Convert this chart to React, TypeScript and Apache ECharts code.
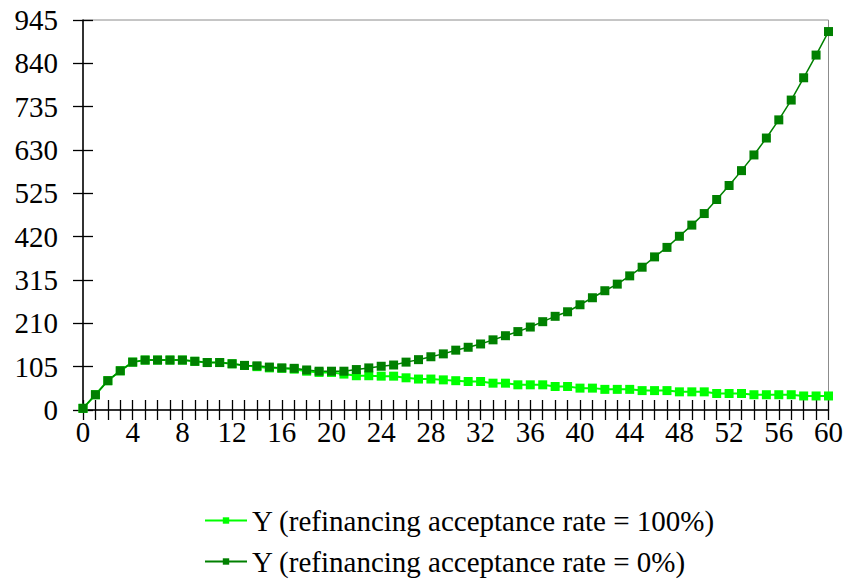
import React, { useEffect, useRef } from "react";
import * as echarts from "echarts";

const categories = [
  "0","1","2","3","4","5","6","7","8","9","10","11","12","13","14","15","16","17","18","19","20",
  "21","22","23","24","25","26","27","28","29","30","31","32","33","34","35","36","37","38","39","40",
  "41","42","43","44","45","46","47","48","49","50","51","52","53","54","55","56","57","58","59","60",
];

const seriesNames = [
  "Y (refinancing acceptance rate = 100%)",
  "Y (refinancing acceptance rate = 0%)",
];

const rate100 = [
  4, 37, 71, 95, 116, 121, 121, 121, 121, 118, 115, 115, 112, 108, 105, 102, 101, 99, 94, 91, 91,
  87, 83, 83, 82, 82, 78, 75, 75, 73, 71, 69, 69, 65, 65, 61, 61, 61, 57, 57, 53,
  53, 50, 50, 50, 47, 47, 47, 44, 44, 44, 40, 40, 40, 37, 37, 37, 37, 34, 34, 34,
];

const rate0 = [
  4, 37, 71, 95, 116, 121, 121, 121, 121, 118, 115, 115, 112, 108, 107, 104, 102, 101, 97, 94, 94,
  94, 98, 102, 106, 109, 116, 122, 129, 136, 145, 152, 160, 170, 180, 190, 201, 214, 227, 238, 255,
  272, 289, 305, 325, 346, 371, 394, 421, 448, 476, 510, 544, 580, 618, 659, 703, 751, 805, 860, 917,
];

const yMin = 0;
const yMax = 945;
const yStep = 105;

const FONT = "Liberation Serif, serif";

export default function App() {
  const ref = useRef<HTMLDivElement>(null);

  useEffect(() => {
    if (!ref.current) return;
    const chart = echarts.init(ref.current, null, { renderer: "svg" });
    const legendBase = {
      orient: "vertical",
      left: 204,
      padding: 0,
      itemWidth: 42,
      itemHeight: 8,
      textStyle: { fontFamily: FONT, fontSize: 29, color: "#000" },
    };
    chart.setOption({
      animation: false,
      backgroundColor: "#ffffff",
      textStyle: { fontFamily: FONT },
      grid: {
        left: 83,
        right: 17,
        top: 20,
        bottom: 171,
        show: true,
        borderColor: "#8c8c8c",
        borderWidth: 1,
      },
      legend: [
        { ...legendBase, top: 506, data: [seriesNames[0]] },
        { ...legendBase, top: 547, data: [seriesNames[1]] },
      ],
      xAxis: [
        {
          type: "category",
          data: categories,
          boundaryGap: false,
          position: "bottom",
          axisLine: { lineStyle: { color: "#000", width: 1.5 } },
          axisTick: { show: true, interval: 0, length: 10, lineStyle: { color: "#000", width: 1.3 } },
          axisLabel: { interval: 3, fontSize: 29, color: "#000", fontFamily: FONT, margin: 7 },
          splitLine: { show: false },
        },
        {
          type: "category",
          data: categories,
          boundaryGap: false,
          position: "bottom",
          axisLine: { show: false },
          axisTick: { show: true, inside: true, interval: 0, length: 10, lineStyle: { color: "#000", width: 1.3 } },
          axisLabel: { show: false },
          splitLine: { show: false },
        },
      ],
      yAxis: [
        {
          type: "value",
          min: yMin,
          max: yMax,
          interval: yStep,
          position: "left",
          axisLine: { show: true, lineStyle: { color: "#000", width: 1.5 } },
          axisTick: { show: true, length: 10, lineStyle: { color: "#000", width: 1.3 } },
          axisLabel: { fontSize: 29, color: "#000", fontFamily: FONT, margin: 25 },
          splitLine: { show: false },
        },
        {
          type: "value",
          min: yMin,
          max: yMax,
          interval: yStep,
          position: "left",
          axisLine: { show: false },
          axisTick: { show: true, inside: true, length: 10, lineStyle: { color: "#000", width: 1.3 } },
          axisLabel: { show: false },
          splitLine: { show: false },
        },
      ],
      series: [
        {
          name: seriesNames[0],
          type: "line",
          data: rate100,
          xAxisIndex: 0,
          yAxisIndex: 0,
          symbol: "rect",
          symbolSize: 9,
          showAllSymbol: true,
          itemStyle: { color: "#00ff00" },
          lineStyle: { color: "#00ff00", width: 2 },
        },
        {
          name: seriesNames[1],
          type: "line",
          data: rate0,
          xAxisIndex: 0,
          yAxisIndex: 0,
          symbol: "rect",
          symbolSize: 9,
          showAllSymbol: true,
          itemStyle: { color: "#008000" },
          lineStyle: { color: "#008000", width: 1.5 },
        },
      ],
    });
    return () => chart.dispose();
  }, []);

  return (
    <div
      ref={ref}
      style={{ position: "absolute", left: 0, top: 0, width: 846, height: 581 }}
    />
  );
}
